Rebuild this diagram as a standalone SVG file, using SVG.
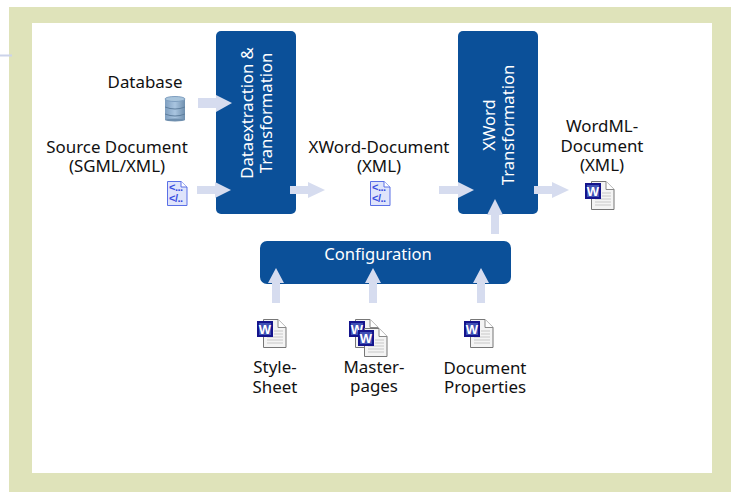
<svg xmlns="http://www.w3.org/2000/svg" width="739" height="492" viewBox="0 0 739 492">
<style>
text{font-family:"Noto Sans","Open Sans","Liberation Sans",sans-serif;font-size:16.900px;fill:#111;text-anchor:middle}
.box{fill:#0b5099}
text.w{fill:#fff;font-size:16.600px}
.arrow{fill:#d6dcef}
text.ic{font-family:"Liberation Sans",sans-serif;font-size:11px;font-weight:bold;fill:#3a4fe0;text-anchor:start;letter-spacing:-.5px}
text.wd{font-family:"Liberation Sans",sans-serif;font-size:13px;font-weight:bold;fill:#fff;text-anchor:middle}
</style>
<defs>
<g id="xml">
<path d="M0.500 0.500H14L20 6V24.500H0.500Z" fill="#dfe4fb" stroke="#5a70e6"/>
<path d="M14 0.500V6H20" fill="#fff" stroke="#5a70e6"/>
<text class="ic" x="2" y="10">&lt;...</text>
<text class="ic" x="2" y="21">&lt;/..</text>
</g>
<g id="word">
<path d="M6.500 0.500H21L29 8.500V28.500H6.500Z" fill="#f4f4f4" stroke="#777"/>
<path d="M21 0.500V8.500H29" fill="#fff" stroke="#888"/>
<path d="M17 12H26M17 15H26M10 18H26M10 21H26M10 24H26" stroke="#c8c8c8"/>
<rect x="1" y="3" width="14" height="14" fill="#3f50b4" stroke="#14148c" stroke-width="2"/>
<text class="wd" x="8" y="15">W</text>
</g>
<linearGradient id="db" x1="0" x2="1" y1="0" y2="0"><stop offset="0" stop-color="#7f9fc0"/><stop offset=".5" stop-color="#a9c5e0"/><stop offset="1" stop-color="#6f8fae"/></linearGradient>
</defs>
<rect id="frame" x="9" y="7" width="722" height="485" fill="#dfe3ba"/>
<rect id="panel" x="32" y="23" width="680" height="450" fill="#fff"/>
<rect x="0" y="54.500" width="12" height="2" fill="#ccd3ea"/>

<g id="node-dataextraction"><rect class="box" x="216" y="31" width="80" height="183" rx="5"/>
<text class="w" transform="translate(253 113) rotate(-90)">Dataextraction &amp;</text>
<text class="w" transform="translate(272 113) rotate(-90)">Transformation</text></g>
<g id="node-xword"><rect class="box" x="458" y="31" width="80" height="183" rx="5"/>
<text class="w" transform="translate(495 125) rotate(-90)">XWord</text>
<text class="w" transform="translate(514 125) rotate(-90)">Transformation</text></g>
<g id="node-configuration"><rect class="box" x="260" y="241" width="251" height="43" rx="7"/>
<text class="w" x="378" y="260">Configuration</text></g>

<g id="connectors" class="arrow">
<path d="M198 98H216V95L232 103L216 112V108H198Z"/>
<path d="M197 186H215V182L231 190L215 198V194H197Z"/>
<path d="M290 186H308V182L325 190L308 198V194H290Z"/>
<path d="M439 186H458V182L474 190L458 198V194H439Z"/>
<path d="M534 186H552V182L569 190L552 198V194H534Z"/>
<path d="M491 234V215H487L495 199L503 215H499V234Z"/>
<path d="M272 303V283H268L276 268L284 283H280V303Z"/>
<path d="M369 303V283H365L373 268L381 283H377V303Z"/>
<path d="M477 303V283H473L481 268L489 283H485V303Z"/>
</g>

<g id="node-database"><text x="145" y="88">Database</text>
<rect x="165" y="99" width="20" height="21" fill="url(#db)"/>
<ellipse cx="175" cy="120" rx="10" ry="1.500" fill="#6f8fae"/>
<ellipse cx="175" cy="99" rx="10" ry="2.500" fill="#a9c5dc" stroke="#7f9fc0"/>
<path d="M165 107Q175 111 185 107M165 114Q175 118 185 114" fill="none" stroke="#5f7f9e"/></g>

<g id="node-source"><text x="117" y="153">Source Document</text><text x="117" y="172">(SGML/XML)</text>
<use href="#xml" x="167" y="181"/></g>

<g id="node-xword-doc"><text x="379" y="153">XWord-Document</text><text x="379" y="172">(XML)</text>
<use href="#xml" x="370" y="181"/></g>

<g id="node-wordml"><text x="602" y="132">WordML-</text><text x="602" y="152">Document</text><text x="602" y="171">(XML)</text>
<use href="#word" x="585" y="181"/></g>

<g id="node-stylesheet"><use href="#word" x="257" y="319"/><text x="275" y="373">Style-</text><text x="275" y="393">Sheet</text></g>
<g id="node-masterpages"><use href="#word" x="349" y="319"/><use href="#word" x="358" y="328"/><text x="374" y="373">Master-</text><text x="374" y="392">pages</text></g>
<g id="node-docprops"><use href="#word" x="464" y="319"/><text x="485" y="374">Document</text><text x="485" y="393">Properties</text></g>
</svg>
